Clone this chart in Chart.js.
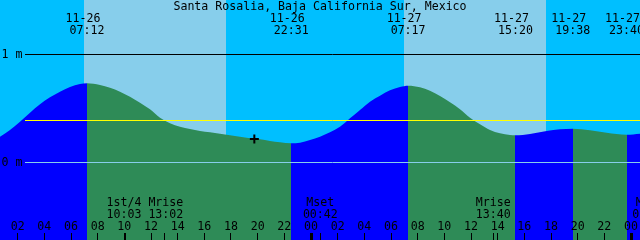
<!DOCTYPE html>
<html lang="en">
<head>
<meta charset="UTF-8">
<title>Santa Rosalia, Baja California Sur, Mexico</title>
<style>
  html, body { margin: 0; padding: 0; background: #00bfff; }
  canvas { display: block; }
</style>
</head>
<body>
<canvas id="tideChart" width="640" height="240"></canvas>
<script src="https://cdn.jsdelivr.net/npm/chart.js"></script>
<script>
// hours counted from 11-26 00:00
const tideHours = [0.675, 1.425, 2.175, 2.925, 3.675, 4.425, 5.175, 5.925, 6.675, 7.2,
  8.175, 8.925, 9.675, 10.425, 11.175, 11.925, 12.675, 13.425, 14.175, 14.925,
  15.675, 16.425, 17.175, 17.925, 18.675, 19.425, 20.175, 20.925, 21.675, 22.517,
  23.175, 23.925, 24.675, 25.425, 26.175, 26.925, 27.675, 28.425, 29.175, 29.925,
  30.675, 31.283, 32.175, 32.925, 33.675, 34.425, 35.175, 35.925, 36.675, 37.425,
  38.175, 38.925, 39.333, 40.425, 41.675, 42.675, 43.633, 44.925, 46.175, 47.667, 48.675];
const tideMeters = [0.239, 0.301, 0.378, 0.461, 0.539, 0.604, 0.656, 0.699, 0.727, 0.733,
  0.718, 0.693, 0.656, 0.609, 0.554, 0.493, 0.415, 0.363, 0.331, 0.310,
  0.292, 0.280, 0.267, 0.252, 0.239, 0.224, 0.215, 0.199, 0.187, 0.178,
  0.183, 0.208, 0.239, 0.280, 0.331, 0.409, 0.486, 0.563, 0.619, 0.669,
  0.699, 0.711, 0.696, 0.665, 0.616, 0.557, 0.493, 0.415, 0.354, 0.301,
  0.270, 0.255, 0.252, 0.264, 0.292, 0.307, 0.313, 0.298, 0.276, 0.257, 0.267];

const extremeHours = [7.2, 22.517, 31.283, 39.333, 43.633, 47.667];
const extremeKinds = ['High', 'Low', 'High', 'Low', 'High', 'Low'];
const extremeDates = ['11-26', '11-26', '11-27', '11-27', '11-27', '11-27'];
const extremeClock = ['07:12', '22:31', '07:17', '15:20', '19:38', '23:40'];

const sunriseHours = [6.975, 30.975];
const sunsetHours = [17.625, 41.625];

const moonNames = ['1st/4 Mrise', 'Mset', 'Mrise', 'Mset'];
const moonClock = ['10:03 13:02', '00:42', '13:40', '01:30'];
const moonHours = [[10.05, 13.033], [24.7], [37.667], [49.4]];

const hourTicks = [2, 4, 6, 8, 10, 12, 14, 16, 18, 20, 22, 24, 26, 28, 30, 32, 34, 36, 38, 40, 42, 44, 46, 48];
const dayStarts = [24, 48];

const levelMeters = [1, 0];
const levelLabels = ['1 m', '0 m'];
const meanLevel = 0.39;

const nowHour = 19.75;
const nowMeters = 0.218;

const title = 'Santa Rosalia, Baja California Sur, Mexico';

const NIGHT = '#00bfff', DAY = '#87ceeb', RISE = '#0000ff', FALL = '#2e8b57';
const FONT = '11.6px "DejaVu Sans Mono", "Liberation Mono", monospace';

let tideGradient = (chart) => {
    const { ctx, chartArea, scales } = chart;
    if (!chartArea) return FALL;
    const w = chartArea.right - chartArea.left;
    const g = ctx.createLinearGradient(chartArea.left, 0, chartArea.right, 0);
    let prev = 0;
    extremeHours.forEach((h, i) => {
        const pos = Math.min(1, Math.max(0, (scales.x.getPixelForValue(h) - chartArea.left) / w));
        const col = extremeKinds[i] === 'High' ? RISE : FALL;
        g.addColorStop(prev, col);
        g.addColorStop(pos, col);
        prev = pos;
    });
    const last = extremeKinds[extremeKinds.length - 1] === 'High' ? FALL : RISE;
    g.addColorStop(prev, last);
    g.addColorStop(1, last);
    return g;
};

const decor = {
    id: 'decor',
    beforeDraw(chart) {
        const { ctx, chartArea: a, scales: { x } } = chart;
        ctx.save();
        ctx.fillStyle = NIGHT;
        ctx.fillRect(0, 0, chart.width, chart.height);
        ctx.fillStyle = DAY;
        sunriseHours.forEach((r, i) => {
            const x0 = Math.round(x.getPixelForValue(r));
            const x1 = Math.round(x.getPixelForValue(sunsetHours[i]));
            ctx.fillRect(x0, a.top, x1 - x0, a.bottom - a.top);
        });
        ctx.restore();
    },
    afterDatasetsDraw(chart) {
        const { ctx, chartArea: a, scales: { y } } = chart;
        const hline = (v, color) => {
            const py = Math.floor(y.getPixelForValue(v)) + 0.5;
            ctx.strokeStyle = color;
            ctx.beginPath();
            ctx.moveTo(25, py);
            ctx.lineTo(a.right, py);
            ctx.stroke();
        };
        ctx.save();
        ctx.lineWidth = 1;
        hline(levelMeters[0], '#000000');
        hline(meanLevel, '#ffff00');
        hline(levelMeters[1], DAY);
        ctx.restore();
    },
    afterDraw(chart) {
        const { ctx, scales: { x, y } } = chart;
        ctx.save();
        ctx.font = FONT;
        ctx.fillStyle = '#000';
        ctx.textAlign = 'center';
        ctx.textBaseline = 'alphabetic';
        ctx.fillText(title, 320, 10);

        extremeHours.forEach((h, i) => {
            const px = x.getPixelForValue(h);
            ctx.fillText(extremeDates[i], px - 4, 22);
            ctx.fillText(extremeClock[i], px, 34);
        });

        ctx.textAlign = 'left';
        levelMeters.forEach((v, i) => {
            ctx.fillText(levelLabels[i], 1.5, Math.floor(y.getPixelForValue(v)) + 4);
        });

        ctx.textAlign = 'center';
        hourTicks.forEach(h => {
            const px = x.getPixelForValue(h);
            ctx.fillText(String(h % 24).padStart(2, '0'), px, 230);
            ctx.fillRect(Math.floor(px), 233, 1, 7);
        });
        dayStarts.forEach(h => {
            const px = Math.round(x.getPixelForValue(h));
            ctx.fillRect(px - 1, 233, 3, 7);
        });

        moonHours.forEach((hs, i) => {
            const xs = hs.map(h => x.getPixelForValue(h));
            xs.forEach(px => ctx.fillRect(Math.floor(px), 233, 1, 7));
            const cx = xs.reduce((s, v) => s + v, 0) / xs.length;
            ctx.fillText(moonNames[i], cx, 206);
            ctx.fillText(moonClock[i], cx, 218);
        });
        ctx.restore();
    }
};

const config = {
    type: 'line',
    data: {
        datasets: [{
            label: 'now',
            data: [{ x: nowHour, y: nowMeters }],
            showLine: false,
            fill: false,
            pointStyle: 'cross',
            pointRadius: 4.5,
            pointBorderWidth: 2,
            pointBorderColor: '#000',
            borderColor: '#000'
        }, {
            label: 'tide',
            data: tideHours.map((h, i) => ({ x: h, y: tideMeters[i] })),
            fill: 'start',
            backgroundColor: (c) => tideGradient(c.chart),
            borderColor: 'transparent',
            borderWidth: 0,
            pointRadius: 0,
            cubicInterpolationMode: 'monotone'
        }]
    },
    options: {
        responsive: false,
        animation: false,
        devicePixelRatio: 1,
        layout: { padding: 0, autoPadding: false },
        plugins: { legend: { display: false }, tooltip: { enabled: false } },
        scales: {
            x: { type: 'linear', min: 0.675, max: 48.675, display: false },
            y: { type: 'linear', min: -0.71759, max: 1.50463, display: false }
        }
    },
    plugins: [decor]
};

const tideChart = new Chart(document.getElementById('tideChart'), config);
</script>
</body>
</html>
